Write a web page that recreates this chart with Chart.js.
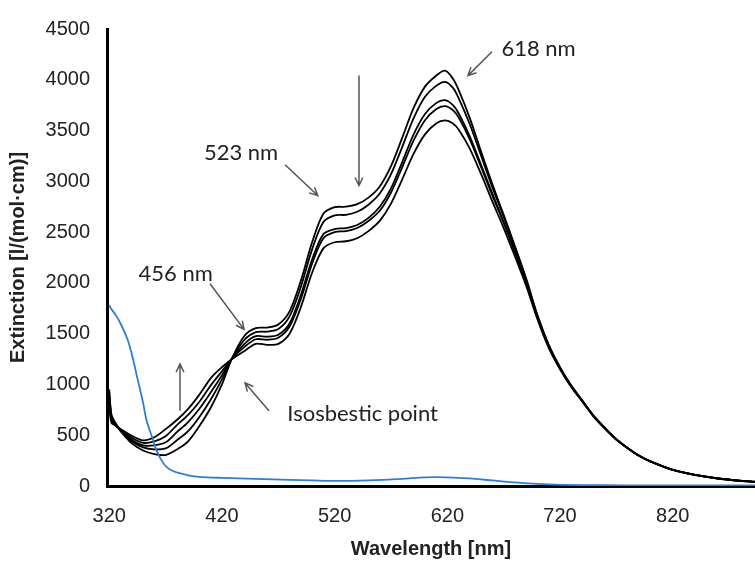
<!DOCTYPE html>
<html>
<head>
<meta charset="utf-8">
<script src="https://cdn.jsdelivr.net/npm/chart.js@4.4.0/dist/chart.umd.min.js"></script>
<style>
html, body { margin: 0; padding: 0; background: #fff; }
</style>
</head>
<body>
<canvas id="chart" width="755" height="563"></canvas>
<script>
// wavelengths [nm] shared by the five black spectra
const wavelengths = [320, 322, 325, 330, 340, 350, 360, 370, 380, 390, 400, 410, 420, 429, 440, 450, 460, 470, 480, 490,
  500, 510, 520, 530, 540, 550, 560, 570, 580, 590, 600, 610, 618, 625, 630, 640, 650, 660, 670, 680,
  690, 700, 710, 720, 730, 740, 750, 760, 770, 780, 790, 800, 820, 840, 860, 880, 893];

const spectrum1 = [950, 680, 620, 540, 420, 350, 315, 305, 360, 440, 590, 770, 1000, 1260, 1480, 1555, 1560, 1590, 1720, 2020,
  2400, 2680, 2745, 2750, 2775, 2840, 2950, 3150, 3430, 3720, 3930, 4040, 4090, 4010, 3900, 3620, 3290, 2970, 2670, 2360,
  2040, 1680, 1390, 1170, 990, 840, 690, 570, 460, 375, 300, 245, 160, 110, 75, 52, 42];
const spectrum2 = [900, 700, 630, 550, 440, 380, 360, 370, 450, 540, 680, 850, 1050, 1258, 1440, 1515, 1520, 1545, 1670, 1960,
  2330, 2600, 2665, 2670, 2700, 2770, 2880, 3070, 3340, 3620, 3830, 3940, 3980, 3920, 3820, 3560, 3250, 2940, 2650, 2350,
  2030, 1675, 1385, 1165, 985, 836, 688, 568, 459, 374, 300, 244, 160, 110, 75, 52, 42];
const spectrum3 = [870, 660, 610, 550, 455, 400, 400, 430, 530, 630, 760, 920, 1090, 1255, 1400, 1475, 1470, 1490, 1600, 1880,
  2230, 2480, 2530, 2540, 2570, 2640, 2750, 2930, 3190, 3460, 3660, 3770, 3800, 3750, 3670, 3440, 3160, 2880, 2600, 2310,
  2000, 1660, 1375, 1160, 980, 832, 685, 566, 457, 373, 299, 243, 159, 109, 74, 51, 41];
const spectrum4 = [820, 640, 600, 555, 475, 425, 440, 490, 600, 700, 830, 990, 1130, 1255, 1370, 1445, 1440, 1460, 1570, 1840,
  2190, 2440, 2500, 2510, 2540, 2610, 2710, 2890, 3140, 3400, 3600, 3710, 3740, 3700, 3630, 3410, 3140, 2860, 2590, 2300,
  1995, 1655, 1370, 1155, 978, 830, 683, 565, 456, 372, 298, 243, 158, 109, 74, 51, 41];
const spectrum5 = [780, 620, 600, 560, 495, 450, 480, 560, 650, 760, 900, 1060, 1170, 1250, 1330, 1400, 1390, 1400, 1500, 1760,
  2100, 2340, 2400, 2410, 2440, 2510, 2610, 2780, 3020, 3270, 3460, 3570, 3600, 3570, 3510, 3320, 3070, 2800, 2540, 2260,
  1970, 1640, 1360, 1150, 975, 828, 680, 563, 455, 371, 297, 242, 158, 108, 74, 51, 41];

// blue reference spectrum
const blueWavelengths = [320, 322, 326, 330, 336, 340, 345, 350, 353, 358, 362, 366, 371, 377, 383, 390, 400, 420, 450, 480,
  500, 520, 550, 580, 600, 620, 640, 660, 680, 700, 720, 760, 800, 850, 893];
const blueValues = [1780, 1740, 1680, 1600, 1450, 1300, 1060, 820, 650, 480, 350, 260, 185, 145, 125, 105, 90, 80, 70, 60,
  55, 50, 55, 70, 85, 85, 75, 55, 35, 20, 12, 8, 5, 5, 5];

const xTicks = [320, 420, 520, 620, 720, 820];
const yTicks = [0, 500, 1000, 1500, 2000, 2500, 3000, 3500, 4000, 4500];

// labels and arrows, in data units
const notes = [
  { text: '618 nm', x: 668, y: 4305 },
  { text: '523 nm', x: 404, y: 3280 },
  { text: '456 nm', x: 346, y: 2089 },
  { text: 'Isosbestic point', x: 478, y: 713 }
];
const arrows = [
  { from: [659.6, 4276], to: [638.3, 4041] },
  { from: [476, 3163], to: [505, 2860] },
  { from: [541.6, 4041], to: [541.6, 2958] },
  { from: [409.4, 1991], to: [439.6, 1542] },
  { from: [382.8, 742], to: [382.8, 1201] },
  { from: [461.7, 742], to: [440.5, 1015] }
];

function toPoints(xs, ys) {
  return xs.map((x, i) => ({ x: x, y: ys[i] }));
}

const blackSet = [spectrum1, spectrum2, spectrum3, spectrum4, spectrum5].map(s => ({
  data: toPoints(wavelengths, s),
  borderColor: '#000',
  borderWidth: 1.8,
  pointRadius: 0,
  tension: 0.3
}));

const annotations = {
  id: 'annotations',
  afterDatasetsDraw(chart) {
    const ctx = chart.ctx;
    const xs = chart.scales.x, ys = chart.scales.y;
    ctx.save();
    ctx.strokeStyle = '#555';
    ctx.lineWidth = 1.5;
    arrows.forEach(a => {
      const x1 = xs.getPixelForValue(a.from[0]), y1 = ys.getPixelForValue(a.from[1]);
      const x2 = xs.getPixelForValue(a.to[0]), y2 = ys.getPixelForValue(a.to[1]);
      const ang = Math.atan2(y2 - y1, x2 - x1);
      const head = 9;
      ctx.beginPath();
      ctx.moveTo(x1, y1);
      ctx.lineTo(x2, y2);
      ctx.moveTo(x2 - head * Math.cos(ang - 0.45), y2 - head * Math.sin(ang - 0.45));
      ctx.lineTo(x2, y2);
      ctx.lineTo(x2 - head * Math.cos(ang + 0.45), y2 - head * Math.sin(ang + 0.45));
      ctx.stroke();
    });
    ctx.fillStyle = '#222';
    ctx.font = '22px Lato';
    ctx.textBaseline = 'middle';
    ctx.textAlign = 'left';
    notes.forEach(n => {
      ctx.fillText(n.text, xs.getPixelForValue(n.x), ys.getPixelForValue(n.y));
    });
    ctx.restore();
  }
};

new Chart(document.getElementById('chart'), {
  type: 'line',
  data: {
    datasets: [{
      data: toPoints(blueWavelengths, blueValues),
      borderColor: '#2b7fd4',
      borderWidth: 1.8,
      pointRadius: 0,
      tension: 0.3
    }].concat(blackSet)
  },
  options: {
    responsive: false,
    animation: false,
    layout: { padding: { top: 25, right: 0, left: 0, bottom: 0 } },
    plugins: { legend: { display: false }, tooltip: { enabled: false } },
    scales: {
      x: {
        type: 'linear',
        min: 318,
        max: 893,
        afterBuildTicks: scale => { scale.ticks = xTicks.map(v => ({ value: v })); },
        afterFit: scale => { scale.height = 77; },
        grid: { display: false, drawTicks: false },
        border: { display: true, color: '#000', width: 3 },
        ticks: { color: '#222', padding: 18, callback: v => String(v), font: { family: 'Liberation Sans', size: 20 } },
        title: {
          display: true,
          text: 'Wavelength [nm]',
          color: '#222',
          padding: { top: 0, bottom: 2 },
          font: { family: 'Liberation Sans', size: 20, weight: 'bold' }
        }
      },
      y: {
        min: 0,
        max: 4500,
        afterBuildTicks: scale => { scale.ticks = yTicks.map(v => ({ value: v })); },
        afterFit: scale => { scale.width = 107; },
        grid: { display: false, drawTicks: false },
        border: { display: true, color: '#000', width: 3 },
        ticks: { color: '#222', padding: 17, callback: v => String(v), font: { family: 'Liberation Sans', size: 20 } },
        title: {
          display: true,
          text: 'Extinction [l/(mol·cm)]',
          color: '#222',
          padding: { top: 6, bottom: 0 },
          font: { family: 'Liberation Sans', size: 20, weight: 'bold' }
        }
      }
    }
  },
  plugins: [annotations]
});
</script>
</body>
</html>
